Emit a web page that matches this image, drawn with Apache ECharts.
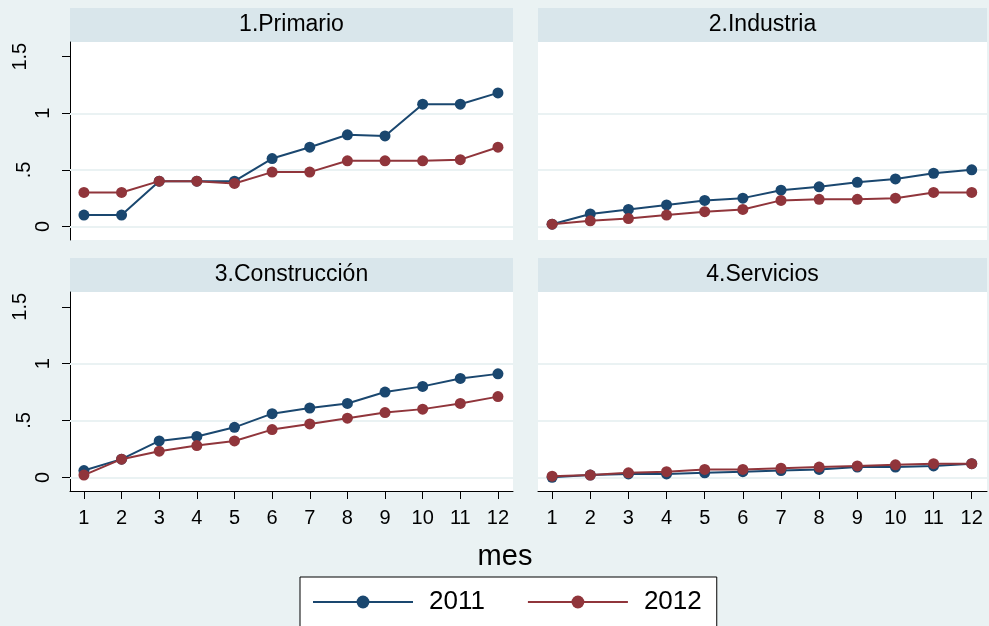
<!DOCTYPE html>
<html>
<head>
<meta charset="utf-8">
<script src="https://cdn.jsdelivr.net/npm/echarts@6/dist/echarts.min.js"></script>
<style>
    html, body { margin: 0; padding: 0; background: #eaf2f3; }
    #chart { width: 989px; height: 626px; }
</style>
</head>
<body>
<div id="chart"></div>
<script>
    // datos
    const meses = [1, 2, 3, 4, 5, 6, 7, 8, 9, 10, 11, 12];
    const paneles = ['1.Primario', '2.Industria', '3.Construcción', '4.Servicios'];
    const anios = ['2011', '2012'];

    const primario2011 = [0.10, 0.10, 0.40, 0.40, 0.40, 0.60, 0.70, 0.81, 0.80, 1.08, 1.08, 1.18];
    const primario2012 = [0.30, 0.30, 0.40, 0.40, 0.38, 0.48, 0.48, 0.58, 0.58, 0.58, 0.59, 0.70];
    const industria2011 = [0.02, 0.11, 0.15, 0.19, 0.23, 0.25, 0.32, 0.35, 0.39, 0.42, 0.47, 0.50];
    const industria2012 = [0.02, 0.05, 0.07, 0.10, 0.13, 0.15, 0.23, 0.24, 0.24, 0.25, 0.30, 0.30];
    const construccion2011 = [0.06, 0.16, 0.32, 0.36, 0.44, 0.56, 0.61, 0.65, 0.75, 0.80, 0.87, 0.91];
    const construccion2012 = [0.02, 0.16, 0.23, 0.28, 0.32, 0.42, 0.47, 0.52, 0.57, 0.60, 0.65, 0.71];
    const servicios2011 = [0.00, 0.02, 0.03, 0.03, 0.04, 0.05, 0.06, 0.07, 0.09, 0.09, 0.10, 0.12];
    const servicios2012 = [0.01, 0.02, 0.04, 0.05, 0.07, 0.07, 0.08, 0.09, 0.10, 0.11, 0.12, 0.12];

    const yTicks = [0, 0.5, 1, 1.5];
    const yTickLabels = ['0', '.5', '1', '1.5'];
    const gridVals = [0, 0.5, 1];

    const navy = '#1a476f';
    const maroon = '#90353b';
    const fuente = 'Liberation Sans, Arial, Helvetica, sans-serif';

    // posiciones de los cuatro paneles
    const grids = [
        { left: 70, top: 42, width: 443, height: 198 },
        { left: 538, top: 42, width: 449, height: 198 },
        { left: 70, top: 292, width: 443, height: 199 },
        { left: 538, top: 292, width: 449, height: 199 }
    ];
    const datos = [
        [primario2011, primario2012],
        [industria2011, industria2012],
        [construccion2011, construccion2012],
        [servicios2011, servicios2012]
    ];

    let xAxes = [], yAxes = [], series = [], graphics = [];

    grids.forEach(function (g, i) {
        let abajo = i >= 2;
        let izq = i % 2 === 0;
        xAxes.push({
            type: 'value', gridIndex: i, min: 0.63, max: 12.4,
            show: abajo,
            axisLine: { show: true, onZero: false, lineStyle: { color: '#000', width: 1 } },
            axisTick: { show: true, length: 8, customValues: meses, lineStyle: { color: '#000' } },
            axisLabel: { show: true, customValues: meses, margin: 17, fontSize: 20, color: '#000', fontFamily: fuente },
            splitLine: { show: false }
        });
        yAxes.push({
            type: 'value', gridIndex: i, min: -0.12, max: 1.63,
            show: izq,
            axisLine: { show: true, lineStyle: { color: '#000', width: 1 } },
            axisTick: { show: true, length: 8, customValues: yTicks, lineStyle: { color: '#000' } },
            axisLabel: {
                show: true, customValues: yTicks, rotate: 90, margin: 17,
                fontSize: 20, color: '#000', fontFamily: fuente,
                formatter: function (v) {
                    let k = yTicks.indexOf(v);
                    let t = k >= 0 ? yTickLabels[k] : '';
                    if (t === '1.5') return '{b|' + t + '}';
                    if (t === '.5') return '{c|' + t + '}';
                    return t;
                },
                rich: {
                    b: { fontSize: 20, fontFamily: fuente, color: '#000', padding: [0, 0, 23, 0] },
                    c: { fontSize: 20, fontFamily: fuente, color: '#000', padding: [0, 0, 19, 0] }
                }
            },
            splitLine: { show: false }
        });
        datos[i].forEach(function (arr, j) {
            let s = {
                name: anios[j], type: 'line', xAxisIndex: i, yAxisIndex: i,
                data: meses.map(function (m, k) { return [m, arr[k]]; }),
                symbol: 'circle', symbolSize: 11,
                itemStyle: { color: j === 0 ? navy : maroon },
                lineStyle: { color: j === 0 ? navy : maroon, width: 2 },
                emphasis: { disabled: true },
                animation: false,
                z: 10 + j
            };
            if (j === 0) {
                // lineas de cuadricula
                s.markLine = {
                    silent: true, symbol: 'none', animation: false, z: 1,
                    label: { show: false },
                    lineStyle: { color: '#eaf2f3', width: 2, type: 'solid' },
                    data: gridVals.map(function (v) { return { yAxis: v }; })
                };
            }
            series.push(s);
        });
        // franja del titulo del panel
        graphics.push({
            type: 'rect', left: g.left, top: g.top - 34, silent: true,
            shape: { width: g.width, height: 34 },
            style: { fill: '#d9e6eb' }
        });
        graphics.push({
            type: 'text', silent: true,
            x: g.left + g.width / 2, y: g.top - 17,
            style: { text: paneles[i], fontSize: 23, fontFamily: fuente, fill: '#000', align: 'center', verticalAlign: 'middle' }
        });
    });

    graphics.push({
        type: 'text', silent: true, x: 505, y: 557,
        style: { text: 'mes', fontSize: 29, fontFamily: fuente, fill: '#000', align: 'center', verticalAlign: 'middle' }
    });

    let chart = echarts.init(document.getElementById('chart'));
    chart.setOption({
        backgroundColor: '#eaf2f3',
        animation: false,
        grid: grids.map(function (g) {
            return Object.assign({ show: true, backgroundColor: '#fff', borderWidth: 0 }, g);
        }),
        xAxis: xAxes,
        yAxis: yAxes,
        legend: {
            data: anios,
            left: 300, top: 577,
            padding: [12, 15, 40, 12],
            itemWidth: 100, itemHeight: 16, itemGap: 42,
            backgroundColor: '#fff',
            borderColor: '#000', borderWidth: 1, borderRadius: 0,
            textStyle: { fontSize: 26, fontFamily: fuente, color: '#000', padding: [0, 0, 0, 11] },
            selectedMode: false
        },
        graphic: graphics,
        series: series
    });
</script>
</body>
</html>
